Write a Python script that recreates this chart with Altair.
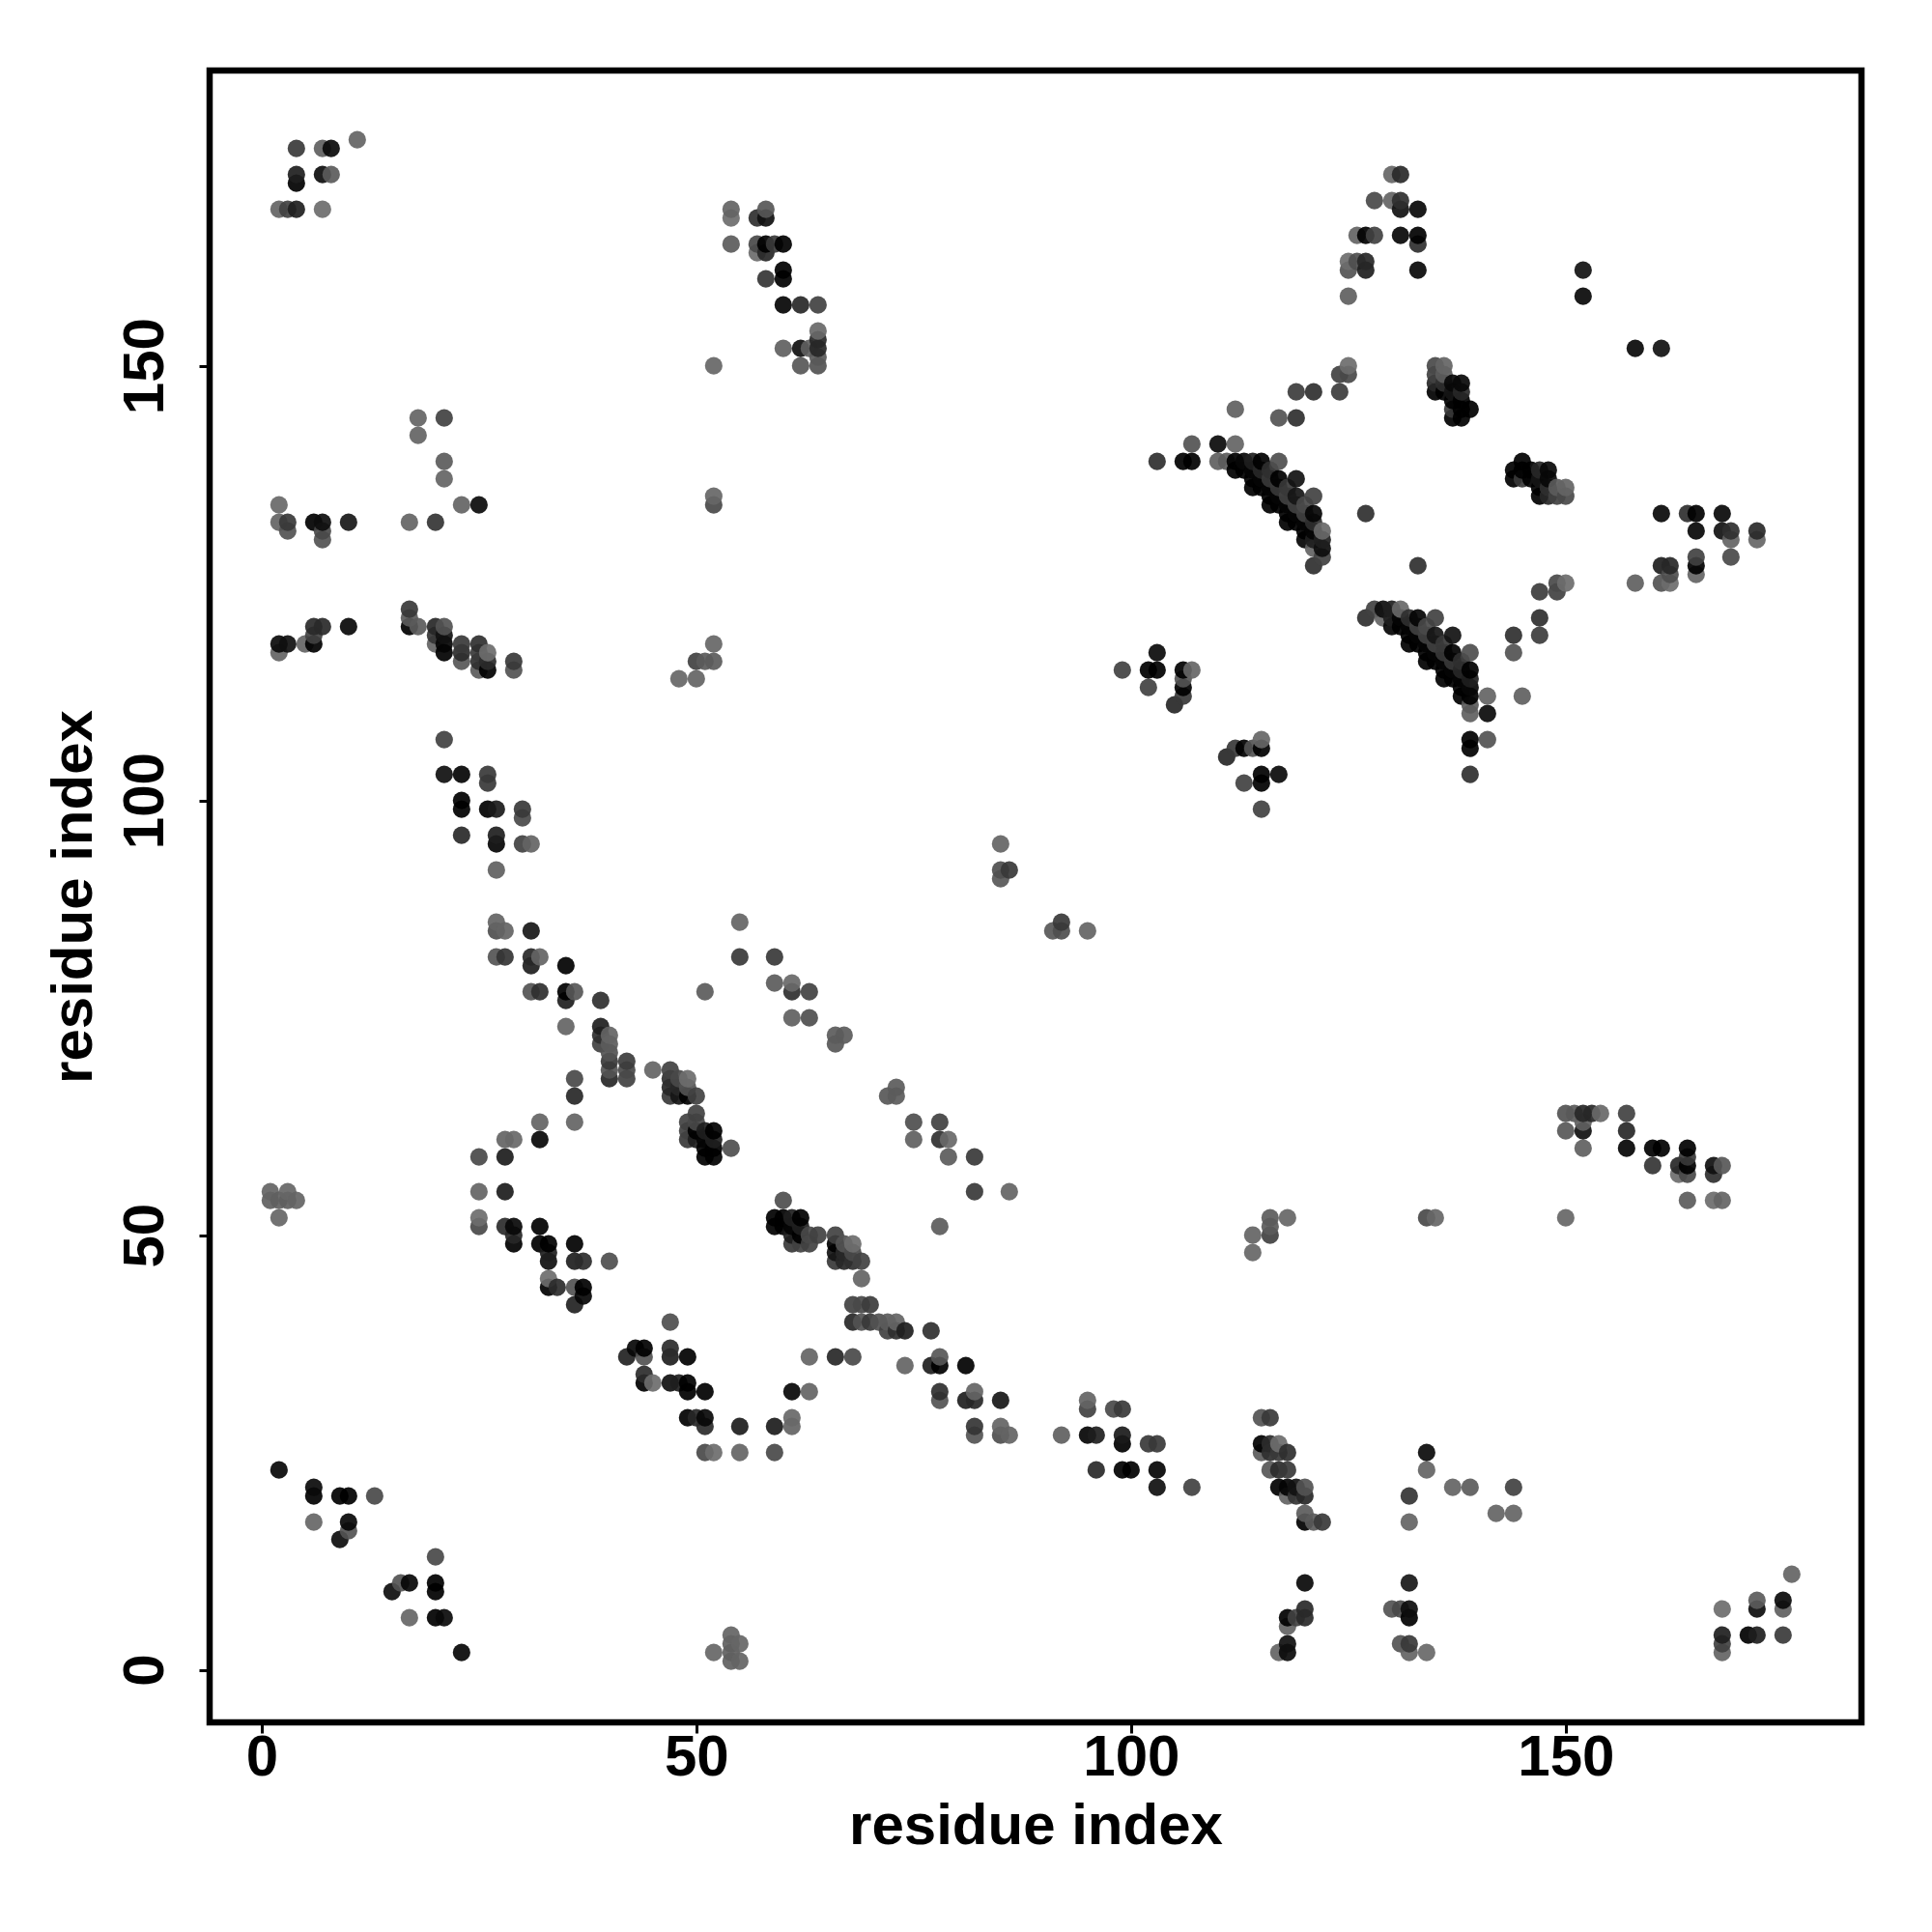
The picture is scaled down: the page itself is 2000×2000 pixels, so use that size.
import altair as alt
import pandas as pd

# Contacts: (residue i, residue j, displayed grey tone)
block_low = [
(2,23,0x1a),(6,21,0x1e),(6,20,0x04),(9,20,0x04),(10,20,0x10),(13,20,0x58),(6,17,0x72),(10,17,0x1a),(10,16,0x60),(9,15,0x20),
(1,55,0x70),(3,55,0x72),(1,54,0x6c),(2,54,0x6c),(3,54,0x6c),(4,54,0x70),(2,52,0x72),
(25,59,0x58),(28,59,0x2e),(28,61,0x70),(29,61,0x74),(32,61,0x1a),(25,55,0x70),(28,55,0x2e),(25,52,0x78),(25,51,0x58),
(28,51,0x3c),(29,51,0x1c),(29,50,0x38),(29,49,0x14),(32,51,0x14),(32,49,0x08),(33,49,0x00),(33,48,0x30),(33,47,0x22),
(36,49,0x10),(36,47,0x30),(37,47,0x3c),(40,47,0x5c),(33,45,0x78),(33,44,0x14),(34,44,0x3c),(36,44,0x60),(37,44,0x00),(37,43,0x1a),(36,42,0x34),
(47,40,0x5a),(43,37,0x20),(44,37,0x05),(42,36,0x38),(44,36,0x50),(47,37,0x38),(47,36,0x22),(49,36,0x10),
(44,34,0x40),(44,33,0x10),(45,33,0x78),(47,33,0x22),(48,33,0x40),(49,33,0x00),(49,32,0x00),(51,32,0x12),(61,32,0x14),
(49,29,0x10),(50,29,0x38),(51,29,0x1a),(51,28,0x38),(55,28,0x26),(59,28,0x28),(61,29,0x78),(61,28,0x60),
(51,25,0x55),(52,25,0x74),(55,25,0x70),(59,25,0x5c),(60,54,0x5c),
(59,52,0x10),(60,52,0x04),(61,52,0x30),(62,52,0x08),(59,51,0x0c),(60,51,0x10),(61,51,0x18),(62,51,0x30),
]
block_helix = [
(47,69,0x50),(49,68,0x78),(48,68,0x58),(47,68,0x40),(47,67,0x38),(47,66,0x48),(48,67,0x38),(48,66,0x28),(49,67,0x60),(49,66,0x0c),(50,66,0x50),
(50,64,0x50),(49,63,0x50),(50,63,0x58),(49,62,0x50),(49,61,0x48),(50,62,0x10),(50,61,0x30),(51,62,0x14),(52,62,0x00),(51,61,0x10),(52,61,0x40),
(51,60,0x04),(52,60,0x04),(51,59,0x0c),(52,59,0x1c),(54,60,0x58),
]
block_mid = [
(17,122,0x48),(17,121,0x68),(17,120,0x10),(18,120,0x68),(20,120,0x38),(21,120,0x60),(20,119,0x44),(20,118,0x70),(21,119,0x24),(21,118,0x18),(21,117,0x14),
(23,118,0x48),(23,117,0x3c),(23,116,0x64),(25,118,0x40),(25,117,0x48),(25,116,0x40),(25,115,0x68),(26,117,0x78),(26,116,0x3c),(26,115,0x14),(29,116,0x48),(29,115,0x60),
(2,118,0x1e),(3,118,0x22),(2,117,0x70),(5,118,0x70),(6,118,0x00),(6,119,0x50),(6,120,0x3a),(7,120,0x3a),(10,120,0x1c),
(52,118,0x72),(50,116,0x50),(51,116,0x68),(52,116,0x68),(48,114,0x72),(50,114,0x70),
(21,107,0x50),(21,103,0x22),(23,103,0x18),(26,103,0x48),(26,102,0x48),(23,100,0x08),(23,99,0x10),(26,99,0x04),(27,99,0x2c),(30,99,0x48),(30,98,0x58),
(23,96,0x3a),(27,96,0x30),(27,95,0x18),(30,95,0x50),(31,95,0x70),(27,92,0x6c),
(27,86,0x70),(27,85,0x5c),(28,85,0x70),(31,85,0x2a),(27,82,0x62),(28,82,0x44),(31,82,0x38),(32,82,0x70),(31,81,0x30),(35,81,0x14),
(31,78,0x60),(32,78,0x40),(35,78,0x10),(36,78,0x64),(35,77,0x30),(39,77,0x40),(35,74,0x70),
(39,74,0x30),(39,73,0x40),(39,72,0x50),(40,73,0x70),(40,72,0x68),(40,71,0x60),(40,70,0x48),(40,69,0x60),(40,68,0x38),
(42,70,0x4c),(42,69,0x58),(42,68,0x50),(45,69,0x70),
(36,68,0x58),(36,66,0x38),(32,63,0x70),(36,63,0x70),
(55,86,0x70),(55,82,0x48),(59,82,0x48),(59,79,0x68),(61,79,0x74),(61,78,0x40),(63,78,0x50),(61,75,0x6c),(63,75,0x5c),(51,78,0x68),
(66,73,0x68),(67,73,0x68),(66,72,0x64),(73,67,0x64),(72,66,0x60),(73,66,0x60),
(75,63,0x5c),(78,63,0x50),(75,61,0x68),(78,61,0x48),(79,61,0x70),(79,59,0x6c),(82,59,0x44),
(85,95,0x70),(85,92,0x5c),(86,92,0x48),(85,91,0x64),(91,85,0x60),(92,86,0x50),(92,85,0x60),(95,85,0x6c),
(103,117,0x1e),(99,115,0x50),(102,115,0x14),(103,115,0x00),(106,115,0x04),(107,115,0x72),(102,113,0x50),(106,114,0x60),(106,113,0x05),(106,112,0x48),(105,111,0x38),
(112,106,0x50),(111,105,0x30),(113,106,0x00),(114,106,0x58),(115,107,0x78),(115,106,0x00),(115,103,0x00),(117,103,0x1c),(113,102,0x50),(115,102,0x14),(115,99,0x50),
]
block_top_left = [
(11,176,0x70),(4,175,0x4a),(7,175,0x6c),(8,175,0x1e),(4,172,0x30),(4,171,0x04),(7,172,0x20),(8,172,0x68),(2,168,0x70),(3,168,0x50),(4,168,0x30),(7,168,0x78),
(54,168,0x70),(54,167,0x78),(57,167,0x40),(58,168,0x64),(58,167,0x22),(54,164,0x68),(57,164,0x58),(57,163,0x78),(58,164,0x00),(58,163,0x38),(59,164,0x48),(60,164,0x10),
(58,160,0x44),(60,161,0x0c),(60,160,0x00),(60,157,0x18),(62,157,0x38),(64,157,0x50),
(64,154,0x74),(64,153,0x38),(64,152,0x38),(60,152,0x6c),(62,152,0x22),(63,152,0x6c),(64,151,0x66),(62,150,0x64),(64,150,0x60),(52,150,0x72),
(18,144,0x70),(21,144,0x50),(18,142,0x70),(21,139,0x68),(21,137,0x70),(2,134,0x74),(23,134,0x70),(25,134,0x1e),(52,135,0x72),(52,134,0x58),
(2,132,0x70),(3,132,0x48),(3,131,0x60),(6,132,0x0a),(7,132,0x20),(7,131,0x58),(7,130,0x60),(10,132,0x2a),(17,132,0x70),(20,132,0x44),
]
block_top_right = [
(130,172,0x72),(131,172,0x3a),(128,169,0x58),(130,169,0x70),(131,169,0x40),(131,168,0x24),(133,168,0x1c),
(126,165,0x70),(127,165,0x04),(128,165,0x50),(131,165,0x1a),(133,165,0x0c),(133,164,0x40),
(125,162,0x78),(126,162,0x5c),(127,162,0x38),(125,161,0x60),(127,161,0x30),(133,161,0x1c),(152,161,0x24),(152,158,0x1c),(125,158,0x6c),
(158,152,0x1c),(161,152,0x28),(125,150,0x78),(124,149,0x50),(125,149,0x58),(124,147,0x4c),(119,147,0x4c),(121,147,0x40),(117,144,0x60),(119,144,0x40),
(112,145,0x6c),(107,141,0x60),(110,141,0x1e),(112,141,0x70),(103,139,0x40),(106,139,0x0c),(107,139,0x08),(110,139,0x6c),(111,139,0x68),(127,133,0x40),
(135,150,0x58),(136,150,0x70),(135,149,0x50),(136,149,0x68),(135,148,0x38),(136,148,0x40),(137,148,0x1c),(138,148,0x1c),(135,147,0x10),(136,147,0x10),(137,147,0x28),(138,147,0x38),
(137,146,0x04),(138,146,0x04),(137,145,0x48),(138,145,0x04),(139,145,0x08),(137,144,0x00),(138,144,0x00),
]
block_arc = [
(112,138,0x0c),(114,136,0x0c),(116,134,0x0c),(118,132,0x0c),(120,130,0x18),
(112,139,0x14),(113,138,0x10),(114,137,0x10),(115,136,0x10),(116,135,0x10),(117,134,0x10),(118,133,0x10),(119,132,0x10),(120,131,0x10),
(113,139,0x1a),(114,138,0x18),(115,137,0x18),(116,136,0x18),(117,135,0x18),(118,134,0x18),(119,133,0x18),(120,132,0x18),(121,131,0x18),
(114,139,0x30),(115,138,0x38),(116,137,0x48),(117,136,0x48),(118,135,0x50),(119,134,0x50),(120,133,0x50),(121,132,0x40),
(115,139,0x04),(116,138,0x40),(117,137,0x00),(118,136,0x48),(119,135,0x28),(120,134,0x58),(121,133,0x18),
(117,139,0x5c),(119,137,0x24),(121,135,0x50),(122,131,0x74),(122,130,0x30),(122,129,0x20),(122,128,0x50),(121,130,0x30),(121,129,0x70),(121,127,0x40),
]
lower_only = [
(139,107,0x08),(139,106,0x10),(141,107,0x62),(139,103,0x3c),(141,110,0x18),(141,112,0x70),(145,112,0x68),(139,111,0x78),(139,110,0x68),
]

tick_values = [0, 50, 100, 150]
axis_label = "residue index"

upper = block_low + block_helix + block_mid + block_top_left + block_top_right + block_arc + lower_only
rows = []
for i, j, t in upper:
    rows.append((i, j, t))
    rows.append((j, i, t))
df = pd.DataFrame(rows, columns=["i", "j", "tone"]).drop_duplicates(["i", "j"]).sort_values(["i", "j"])
ALPHA = 0.92
df["fill"] = [("#%02x%02x%02x" % ((max(0, round((t - 255 * (1 - ALPHA)) / ALPHA)),) * 3)) for t in df["tone"]]

FONT = "Liberation Sans"
chart = (
    alt.Chart(df)
    .mark_circle(size=330, opacity=ALPHA)
    .encode(
        x=alt.X("i:Q", scale=alt.Scale(domain=[-5.98, 184.02], nice=False, zero=False),
                axis=alt.Axis(values=tick_values, title=axis_label, grid=False, domain=False,
                              tickColor="black", tickWidth=3, tickSize=11, format="d",
                              labelFont=FONT, labelFontWeight="bold", labelFontSize=60, labelColor="black",
                              labelPadding=-4, titleFont=FONT, titleFontWeight="bold", titleFontSize=60,
                              titleColor="black", titlePadding=12)),
        y=alt.Y("j:Q", scale=alt.Scale(domain=[-6.04, 183.96], nice=False, zero=False),
                axis=alt.Axis(values=tick_values, title=axis_label, grid=False, domain=False,
                              tickColor="black", tickWidth=3, tickSize=11, format="d",
                              labelFont=FONT, labelFontWeight="bold", labelFontSize=60, labelColor="black",
                              labelAngle=270, labelAlign="center", labelBaseline="bottom", labelPadding=25,
                              titleFont=FONT, titleFontWeight="bold", titleFontSize=60,
                              titleColor="black", titlePadding=13)),
        color=alt.Color("fill:N", scale=None, legend=None),
    )
    .properties(width=1710, height=1710, padding={"left": 209, "top": 65, "right": 60, "bottom": 200},
                autosize=alt.AutoSizeParams(type="none"),
                view=alt.ViewBackground(stroke="black", strokeWidth=6.5, fill="white"),
                background="white")
)
chart.save("out.html", embed_options={"renderer": "svg", "actions": False})
